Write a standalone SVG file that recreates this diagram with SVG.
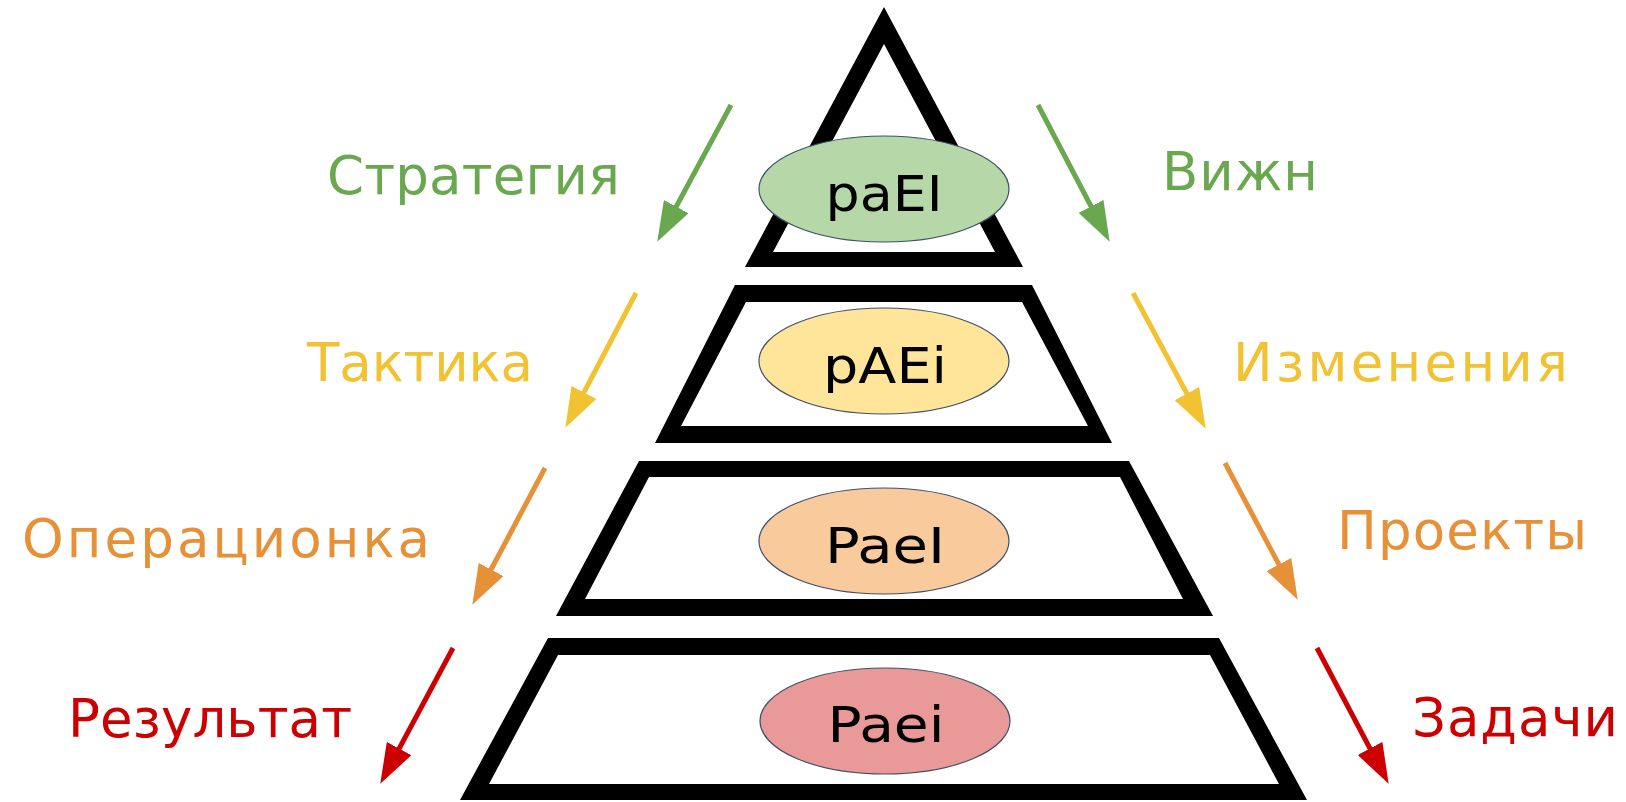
<svg xmlns="http://www.w3.org/2000/svg" width="1626" height="802" viewBox="0 0 1626 802">
  <style>
    .tier { fill: #000000; fill-rule: evenodd; }
    .badge { stroke: #3e5068; stroke-width: 1.2; }
    .badge-text { font-family: "DejaVu Sans", "Liberation Sans", sans-serif; font-size: 50px; fill: #000000; text-anchor: middle; }
    .label { font-family: "DejaVu Sans", "Liberation Sans", sans-serif; font-size: 53px; }
    .arrow { stroke-width: 5; fill: none; stroke-linecap: butt; }
    .green { fill: #6aa84f; } .green-s { stroke: #6aa84f; }
    .yellow { fill: #f1c232; } .yellow-s { stroke: #f1c232; }
    .orange { fill: #e69138; } .orange-s { stroke: #e69138; }
    .red { fill: #cc0000; } .red-s { stroke: #cc0000; }
  </style>
  <defs>
    <marker id="head-green" markerUnits="userSpaceOnUse" markerWidth="40" markerHeight="28" refX="30" refY="14" orient="auto">
      <path d="M0,0 L40,14 L0,28 Z" fill="#6aa84f"/>
    </marker>
    <marker id="head-yellow" markerUnits="userSpaceOnUse" markerWidth="40" markerHeight="28" refX="30" refY="14" orient="auto">
      <path d="M0,0 L40,14 L0,28 Z" fill="#f1c232"/>
    </marker>
    <marker id="head-orange" markerUnits="userSpaceOnUse" markerWidth="40" markerHeight="28" refX="30" refY="14" orient="auto">
      <path d="M0,0 L40,14 L0,28 Z" fill="#e69138"/>
    </marker>
    <marker id="head-red" markerUnits="userSpaceOnUse" markerWidth="40" markerHeight="28" refX="30" refY="14" orient="auto">
      <path d="M0,0 L40,14 L0,28 Z" fill="#cc0000"/>
    </marker>
  </defs>

  <rect width="1626" height="802" fill="#ffffff"/>

  <!-- Pyramid tiers, top to bottom -->
  <g id="tier-1">
    <path class="tier" d="M884,7 L1023,267 L745,267 Z M884,44 L995,252 L773,252 Z"/>
    <ellipse class="badge" cx="884" cy="189" rx="125" ry="53" fill="#b6d7a8"/>
    <text class="badge-text" x="884" y="211" textLength="117" lengthAdjust="spacingAndGlyphs">paEI</text>
  </g>
  <g id="tier-2">
    <path class="tier" d="M735,285 L1032,285 L1112,443 L655,443 Z M746,302 L1022,302 L1088,426 L681,426 Z"/>
    <ellipse class="badge" cx="884" cy="361" rx="125" ry="53" fill="#ffe599"/>
    <text class="badge-text" x="885" y="383" textLength="124" lengthAdjust="spacingAndGlyphs">pAEi</text>
  </g>
  <g id="tier-3">
    <path class="tier" d="M639,461 L1129,461 L1213,616 L556,616 Z M649,477 L1120,477 L1183,599 L585,599 Z"/>
    <ellipse class="badge" cx="884" cy="541" rx="125" ry="53" fill="#f9cb9c"/>
    <text class="badge-text" x="885" y="563" textLength="120" lengthAdjust="spacingAndGlyphs">PaeI</text>
  </g>
  <g id="tier-4">
    <path class="tier" d="M548,638 L1219,638 L1307,800 L460,800 Z M558,655 L1210,655 L1279,784 L489,784 Z"/>
    <ellipse class="badge" cx="885" cy="721" rx="125" ry="53" fill="#ea9999"/>
    <text class="badge-text" x="886" y="742" textLength="117" lengthAdjust="spacingAndGlyphs">Paei</text>
  </g>

  <!-- Side labels -->
  <g id="label-strategy"><text class="label green" x="327" y="194" textLength="293">Стратегия</text></g>
  <g id="label-vision"><text class="label green" x="1162" y="190" textLength="156">Вижн</text></g>
  <g id="label-tactics"><text class="label yellow" x="307" y="381" textLength="226">Тактика</text></g>
  <g id="label-changes"><text class="label yellow" x="1233" y="381" textLength="335">Изменения</text></g>
  <g id="label-operations"><text class="label orange" x="22" y="557" textLength="408">Операционка</text></g>
  <g id="label-projects"><text class="label orange" x="1337" y="549" textLength="250">Проекты</text></g>
  <g id="label-result"><text class="label red" x="68" y="737" textLength="284">Результат</text></g>
  <g id="label-tasks"><text class="label red" x="1412" y="736" textLength="206">Задачи</text></g>

  <!-- Connectors -->
  <g id="connectors">
    <line class="arrow green-s" x1="731" y1="105" x2="662" y2="233" marker-end="url(#head-green)"/>
    <line class="arrow green-s" x1="1038" y1="105" x2="1105" y2="233" marker-end="url(#head-green)"/>
    <line class="arrow yellow-s" x1="636" y1="293" x2="570" y2="419" marker-end="url(#head-yellow)"/>
    <line class="arrow yellow-s" x1="1133" y1="293" x2="1201" y2="420" marker-end="url(#head-yellow)"/>
    <line class="arrow orange-s" x1="545" y1="468" x2="477" y2="596" marker-end="url(#head-orange)"/>
    <line class="arrow orange-s" x1="1225" y1="463" x2="1293" y2="591" marker-end="url(#head-orange)"/>
    <line class="arrow red-s" x1="453" y1="648" x2="385" y2="775" marker-end="url(#head-red)"/>
    <line class="arrow red-s" x1="1317" y1="648" x2="1384" y2="775" marker-end="url(#head-red)"/>
  </g>
</svg>
